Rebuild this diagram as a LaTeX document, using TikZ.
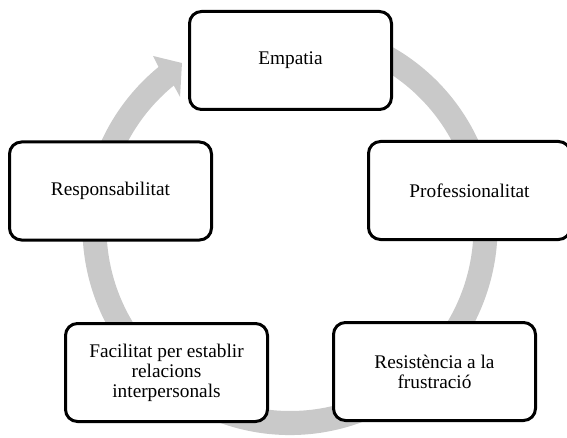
\documentclass[tikz,border=0pt]{standalone}
\usepackage{fontspec}
\setmainfont{Liberation Serif}
\usetikzlibrary{calc}
\definecolor{ringgray}{RGB}{201,201,201}
\tikzset{
  stagebox/.style={draw=black, line width=3pt, rounded corners=12pt, fill=white,
    minimum width=202pt, minimum height=98pt, align=center, inner sep=0pt,
    font=\fontsize{19.3}{20}\selectfont},
  ring/.style={fill=ringgray, draw=none}
}
\begin{document}
\begin{tikzpicture}[x=1pt,y=1pt]
\useasboundingbox (0,0) rectangle (567,437);
\coordinate (c) at (290,209.5);
% circular arrow
\fill[ring] ($(c)+(70:207.5)$) arc[start angle=70,end angle=-230.7,radius=207.5]
  -- ($(c)+(128.6:219.5)$) -- ($(c)+(123.3:196.8)$) -- ($(c)+(130.1:170.7)$)
  -- ($(c)+(129.3:183.5)$) arc[start angle=-230.7,end angle=70,radius=183.5] -- cycle;
% stages
\node[stagebox] (emp) at (290.5,376.5) {Empatia};
\node[stagebox] (resp) at (110.5,246) {Responsabilitat};
\node[stagebox] (prof) at (469.5,246.5) {Professionalitat};
\node[stagebox] (fac) at (166.5,64.5) {Facilitat per establir\\relacions\\interpersonals};
\node[stagebox] (res) at (434.5,65.5) {Resistència a la\\frustració};
\end{tikzpicture}
\end{document}
